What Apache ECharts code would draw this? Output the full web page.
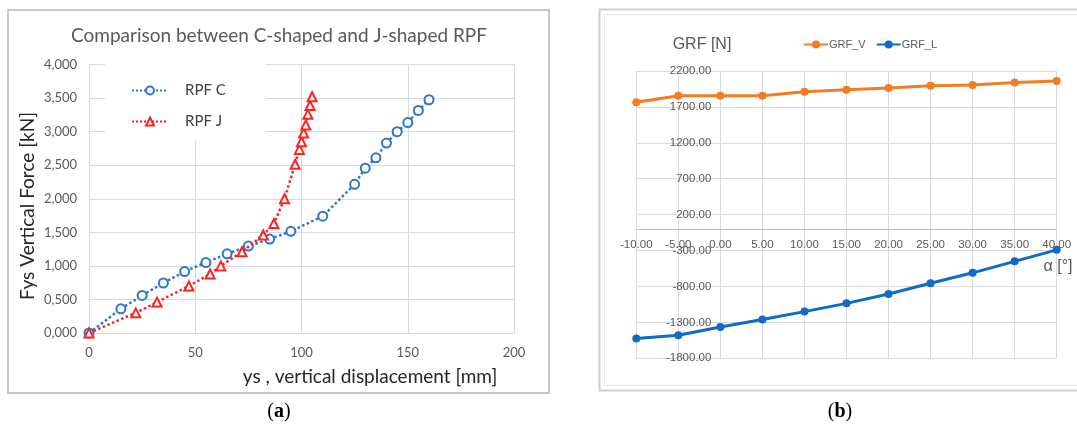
<!DOCTYPE html>
<html>
<head>
<meta charset="utf-8">
<script src="https://cdn.jsdelivr.net/npm/echarts@6/dist/echarts.min.js"></script>
<style>
html,body{margin:0;padding:0;background:#fff;}
#c{width:1077px;height:430px;}
</style>
</head>
<body>
<div id="c"></div>
<script>
// ---- Chart (a) data ----
const cX = [0, 15, 25, 35, 45, 55, 65, 75, 85, 95, 110, 125, 130, 135, 140, 145, 150, 155, 160];
const cY = [0, 360, 560, 745, 915, 1050, 1180, 1295, 1400, 1515, 1740, 2215, 2455, 2610, 2830, 3000, 3135, 3315, 3475];
const jX = [0, 22, 32, 47, 57, 62, 72, 82, 87, 92, 97, 99, 100, 101, 102, 103, 104, 105];
const jY = [0, 300, 460, 700, 880, 1000, 1210, 1460, 1630, 2000, 2515, 2735, 2850, 2980, 3100, 3260, 3390, 3520];
const aXTicks = [0, 50, 100, 150, 200];
const aYTicks = [0, 500, 1000, 1500, 2000, 2500, 3000, 3500, 4000];

// ---- Chart (b) data ----
const alpha = [-10, -5, 0, 5, 10, 15, 20, 25, 30, 35, 40];
const grfV = [1765, 1855, 1855, 1855, 1910, 1940, 1965, 1995, 2005, 2040, 2060];
const grfL = [-1525, -1480, -1365, -1260, -1150, -1035, -905, -755, -610, -450, -290];
const bYTicks = [-1800, -1300, -800, -300, 200, 700, 1200, 1700, 2200];

const pair = (xs, ys) => xs.map((x, i) => [x, ys[i]]);
const fmtA = v => Math.floor(v / 1000) + ',' + String(v % 1000).padStart(3, '0');

const FA = 'Lato, "Open Sans", sans-serif';
const FB = '"Liberation Sans", sans-serif';
const GRID = '#D9D9D9';

// grid (b) geometry; axes of (b) cross at zero like the Excel chart
const gB = {left: 636.3, top: 71, width: 420.4, height: 287.3};
const bYMin = bYTicks[0], bYMax = bYTicks[bYTicks.length - 1];
const bXMin = alpha[0], bXMax = alpha[alpha.length - 1];
const xOffB = -gB.height * (0 - bYMin) / (bYMax - bYMin);
const yOffB = -gB.width * (0 - bXMin) / (bXMax - bXMin);

const chart = echarts.init(document.getElementById('c'), null, {renderer: 'canvas'});
chart.setOption({
  animation: false,
  backgroundColor: '#fff',
  grid: [
    {left: 89, top: 64.5, width: 425, height: 268.5},
    gB
  ],
  xAxis: [
    {
      gridIndex: 0, type: 'value', min: aXTicks[0], max: aXTicks[aXTicks.length - 1], interval: 50,
      axisLine: {show: true, lineStyle: {color: GRID, width: 1}},
      axisTick: {show: false},
      axisLabel: {color: '#595959', fontFamily: FA, fontSize: 13, margin: 13},
      splitLine: {show: true, lineStyle: {color: GRID, width: 1}}
    },
    {
      gridIndex: 1, type: 'value', min: bXMin, max: bXMax, interval: 5,
      position: 'bottom', offset: xOffB,
      axisLine: {show: true, onZero: false, lineStyle: {color: '#BFBFBF', width: 1}},
      axisTick: {show: false},
      axisLabel: {color: '#595959', fontFamily: FB, fontSize: 11.5, margin: 10, formatter: v => v.toFixed(2)},
      splitLine: {show: true, lineStyle: {color: GRID, width: 1}}
    }
  ],
  yAxis: [
    {
      gridIndex: 0, type: 'value', min: aYTicks[0], max: aYTicks[aYTicks.length - 1], interval: 500,
      axisLine: {show: false},
      axisTick: {show: false},
      axisLabel: {color: '#595959', fontFamily: FA, fontSize: 13, margin: 12, formatter: fmtA},
      splitLine: {show: true, lineStyle: {color: GRID, width: 1}}
    },
    {
      gridIndex: 1, type: 'value', min: bYMin, max: bYMax, interval: 500,
      position: 'left', offset: yOffB,
      axisLine: {show: false, onZero: false},
      axisTick: {show: false},
      axisLabel: {color: '#595959', fontFamily: FB, fontSize: 11.5, margin: 9, formatter: v => v.toFixed(2)},
      splitLine: {show: true, lineStyle: {color: GRID, width: 1}}
    }
  ],
  legend: [
    {
      left: 105, top: 64, orient: 'vertical',
      backgroundColor: '#fff',
      padding: [19, 40, 12, 26],
      itemGap: 16, itemWidth: 36, itemHeight: 10,
      textStyle: {color: '#404040', fontFamily: FA, fontSize: 15, padding: [0, 0, 0, 12]},
      data: ['RPF C', 'RPF J']
    },
    {
      left: 798, top: 34, orient: 'horizontal',
      itemGap: 10, itemWidth: 24, itemHeight: 10,
      textStyle: {color: '#595959', fontFamily: FB, fontSize: 11, padding: [0, 0, 0, -4]},
      data: ['GRF_V', 'GRF_L']
    }
  ],
  series: [
    {
      name: 'RPF C', type: 'line', xAxisIndex: 0, yAxisIndex: 0,
      data: pair(cX, cY),
      symbol: 'emptyCircle', symbolSize: 9,
      lineStyle: {color: '#2F74CC', width: 2.5, type: 'dotted'},
      itemStyle: {color: '#2F74CC', borderWidth: 2},
      z: 3
    },
    {
      name: 'RPF J', type: 'line', xAxisIndex: 0, yAxisIndex: 0,
      data: pair(jX, jY),
      symbol: 'emptyTriangle', symbolSize: 9,
      lineStyle: {color: '#FF2222', width: 2.5, type: 'dotted'},
      itemStyle: {color: '#FF2222', borderWidth: 1.5},
      z: 4
    },
    {
      name: 'GRF_V', type: 'line', xAxisIndex: 1, yAxisIndex: 1,
      data: pair(alpha, grfV),
      symbol: 'circle', symbolSize: 8,
      lineStyle: {color: '#F47C22', width: 3},
      itemStyle: {color: '#F47C22'}
    },
    {
      name: 'GRF_L', type: 'line', xAxisIndex: 1, yAxisIndex: 1,
      data: pair(alpha, grfL),
      symbol: 'circle', symbolSize: 8,
      lineStyle: {color: '#0F6BC6', width: 3},
      itemStyle: {color: '#0F6BC6'}
    }
  ],
  graphic: [
    {type: 'rect', shape: {x: 8, y: 10, width: 541, height: 383}, style: {fill: null, stroke: '#C8C8C8', lineWidth: 2}, z: -1},
    {type: 'rect', shape: {x: 599.5, y: 9.5, width: 490, height: 381}, style: {fill: null, stroke: '#CFCFCF', lineWidth: 2}, z: -1},
    {type: 'rect', shape: {x: 604.5, y: 14.5, width: 480, height: 371}, style: {fill: null, stroke: '#E4E4E4', lineWidth: 1}, z: -1},
    {type: 'text', x: 279, y: 36, style: {text: 'Comparison between C-shaped and J-shaped RPF', font: '19px ' + FA, fill: '#595959', align: 'center', verticalAlign: 'middle'}},
    {type: 'text', x: 28, y: 206, rotation: Math.PI / 2, style: {text: 'Fys Vertical Force [kN]', font: '19px ' + FA, fill: '#262626', align: 'center', verticalAlign: 'middle'}},
    {type: 'text', x: 370, y: 377, style: {text: 'ys , vertical displacement [mm]', font: '19px ' + FA, fill: '#262626', align: 'center', verticalAlign: 'middle'}},
    {type: 'text', x: 702, y: 45, style: {text: 'GRF [N]', font: '16px ' + FB, fill: '#595959', align: 'center', verticalAlign: 'middle'}},
    {type: 'text', x: 1058, y: 267, style: {text: 'α [°]', font: '16px ' + FB, fill: '#595959', align: 'center', verticalAlign: 'middle'}},
    {type: 'text', x: 279, y: 412, style: {text: '{n|(}{b|a}{n|)}', align: 'center', verticalAlign: 'middle',
      rich: {n: {font: '20px "Liberation Serif", "DejaVu Serif", serif', fill: '#000'}, b: {font: 'bold 20px "Liberation Serif", "DejaVu Serif", serif', fill: '#000'}}}},
    {type: 'text', x: 840, y: 412, style: {text: '{n|(}{b|b}{n|)}', align: 'center', verticalAlign: 'middle',
      rich: {n: {font: '20px "Liberation Serif", "DejaVu Serif", serif', fill: '#000'}, b: {font: 'bold 20px "Liberation Serif", "DejaVu Serif", serif', fill: '#000'}}}}
  ]
});
</script>
</body>
</html>
